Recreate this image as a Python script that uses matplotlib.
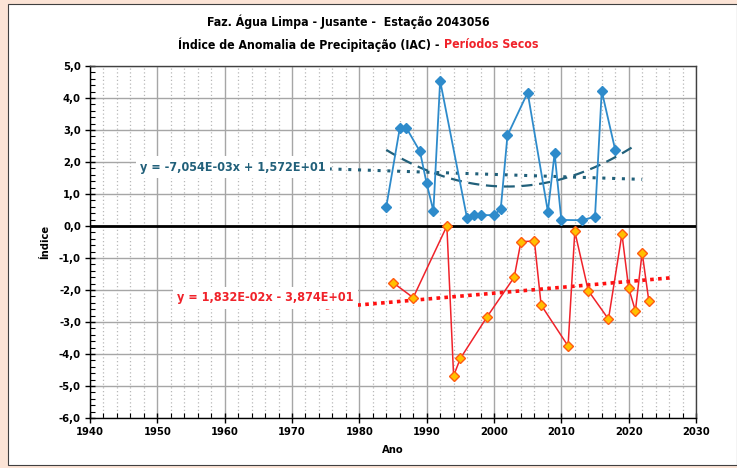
import numpy as np
import matplotlib
matplotlib.use("Agg")
import matplotlib.pyplot as plt
from matplotlib.patches import Rectangle
from matplotlib.ticker import MultipleLocator, FuncFormatter

plt.rcParams['font.family'] = ['DejaVu Sans']
plt.rcParams['font.stretch'] = 'condensed'
plt.rcParams['font.weight'] = 'bold'

# dados - anos com indice positivo (umidos) e periodos secos
anos_umidos = [1984, 1986, 1987, 1989, 1990, 1991, 1992, 1996, 1997, 1998,
               2000, 2001, 2002, 2005, 2008, 2009, 2010, 2013, 2015, 2016, 2018]
iac_umidos = [0.60, 3.05, 3.06, 2.33, 1.33, 0.47, 4.54, 0.24, 0.34, 0.34,
              0.34, 0.53, 2.83, 4.17, 0.45, 2.27, 0.19, 0.18, 0.29, 4.22, 2.38]

anos_secos = [1985, 1988, 1993, 1994, 1995, 1999, 2003, 2004, 2006, 2007,
              2011, 2012, 2014, 2017, 2019, 2020, 2021, 2022, 2023]
iac_secos = [-1.77, -2.24, 0.0, -4.68, -4.14, -2.83, -1.60, -0.49, -0.47, -2.47,
             -3.75, -0.17, -2.02, -2.91, -0.25, -1.94, -2.65, -0.83, -2.35]

# coeficientes das linhas de tendencia (do grafico)
coef_umidos = [-7.054e-03, 1.572e+01]
coef_secos = [1.832e-02, -3.874e+01]

titulo1 = "Faz. Água Limpa - Jusante -  Estação 2043056"
titulo2a = "Índice de Anomalia de Precipitação (IAC) - "
titulo2b = "Períodos Secos"

azul = '#2E8BCB'
azul_esc = '#21607A'
vermelho = '#F0222A'

fig = plt.figure(figsize=(7.37, 4.68), dpi=100)
fig.patch.set_facecolor('#FCE4D6')
fig.patches.append(Rectangle((8/737, 3/468), 729/737, 461/468, transform=fig.transFigure,
                             facecolor='white', edgecolor='#404040', linewidth=0.8, zorder=-10))

ax = fig.add_axes([90/737, 50/468, 606/737, 352/468])
ax.set_facecolor('white')

# series
ax.plot(anos_umidos, iac_umidos, color=azul, lw=1.3, marker='D', ms=5,
        mfc=azul, mec=azul, zorder=5)
ax.plot(anos_secos, iac_secos, color=vermelho, lw=1.1, marker='D', ms=5,
        mfc='#FFC000', mec='#FF5A10', mew=1.0, zorder=5)

# tendencias lineares
xu = np.array([1974, 2022])
ax.plot(xu, np.polyval(coef_umidos, xu), color=azul_esc, lw=2.2, ls=(0, (1, 2.2)), zorder=3)
xs = np.array([1975, 2026.3])
ax.plot(xs, np.polyval(coef_secos, xs), color='#FF1010', lw=2.6, ls=(0, (1, 1.2)), zorder=3)

# tendencia polinomial (ordem 2) dos anos umidos
p2 = np.polyfit(anos_umidos, iac_umidos, 2)
xp = np.linspace(1984, 2021, 100)
ax.plot(xp, np.polyval(p2, xp), color=azul_esc, lw=1.6, ls=(0, (5, 3)), zorder=3)

# linha do zero
ax.axhline(0, color='black', lw=2.0, zorder=4)

# equacoes
ax.text(1961.2, 1.84, "y = -7,054E-03x + 1,572E+01", color=azul_esc, fontsize=9,
        fontweight='bold', ha='center', va='center', zorder=6,
        bbox=dict(facecolor='white', edgecolor='none', pad=3))
ax.text(1966.1, -2.25, "y = 1,832E-02x - 3,874E+01", color=vermelho, fontsize=9,
        fontweight='bold', ha='center', va='center', zorder=6,
        bbox=dict(facecolor='white', edgecolor='none', pad=3))

ax.set_xlim(1940, 2030)
ax.set_ylim(-6, 5)
ax.xaxis.set_major_locator(MultipleLocator(10))
ax.xaxis.set_minor_locator(MultipleLocator(2))
ax.yaxis.set_major_locator(MultipleLocator(1))
ax.yaxis.set_minor_locator(MultipleLocator(0.2))
ax.yaxis.set_major_formatter(FuncFormatter(lambda v, p: f"{v:.1f}".replace('.', ',')))

ax.grid(which='major', axis='both', color='#A6A6A6', lw=1.0, zorder=1)
ax.grid(which='minor', axis='x', color='#B8B8B8', lw=0.9, ls=(0, (1, 2)), zorder=1)
ax.set_axisbelow(True)

ax.tick_params(which='major', direction='inout', length=7, width=1.0, labelsize=8, pad=3)
ax.tick_params(which='minor', direction='in', length=3.5, width=0.8)
ax.tick_params(axis='y', which='minor', right=False)
for lab in ax.get_xticklabels() + ax.get_yticklabels():
    lab.set_fontweight('bold')

for s in ax.spines.values():
    s.set_color('#404040')
    s.set_linewidth(1.0)
ax.spines['left'].set_color('black')
ax.spines['bottom'].set_color('black')

ax.set_xlabel("Ano", fontsize=8, fontweight='bold', labelpad=6)
ax.set_ylabel("Índice", fontsize=8, fontweight='bold', labelpad=6)

fig.text(348/737, 1 - 22/468, titulo1, ha='center', va='center', fontsize=8.8,
         fontweight='bold')
fig.text(443/737, 1 - 45/468, titulo2a, ha='right', va='center', fontsize=8.8,
         fontweight='bold')
fig.text(444/737, 1 - 45/468, titulo2b, ha='left', va='center', fontsize=8.8,
         fontweight='bold', color=vermelho)

fig.savefig("out.png", dpi=100, facecolor=fig.get_facecolor())
